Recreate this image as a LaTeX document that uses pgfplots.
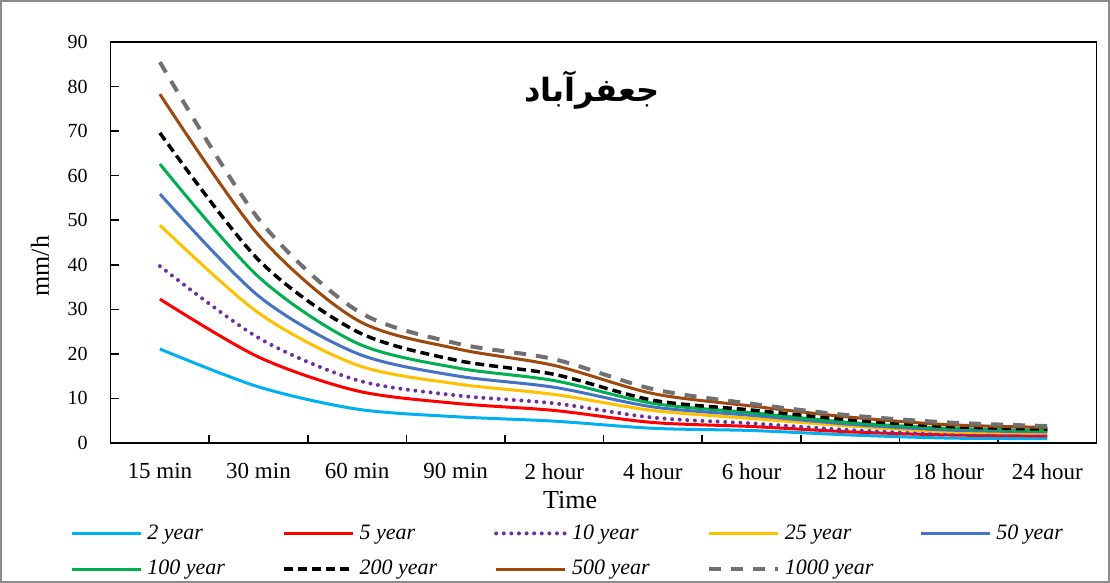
\documentclass[border=0pt]{standalone}
\usepackage{pgfplots}
\pgfplotsset{compat=1.18}
\usepackage{fontspec}
\setmainfont{Liberation Serif}
\newfontfamily\arabicfont[Script=Arabic]{DejaVu Sans}
\TeXXeTstate=1

\definecolor{c2}{RGB}{0,176,240}
\definecolor{c5}{RGB}{255,0,0}
\definecolor{c10}{RGB}{112,48,160}
\definecolor{c25}{RGB}{255,192,0}
\definecolor{c50}{RGB}{68,114,196}
\definecolor{c100}{RGB}{0,176,80}
\definecolor{c500}{RGB}{158,72,14}
\definecolor{c1000}{RGB}{112,112,112}

% fixed-width italic legend text
\newcommand{\legtxt}[1]{\makebox[55pt][l]{\itshape #1}}

\begin{document}
\begin{tikzpicture}
\useasboundingbox (0,0) rectangle (555pt,291.5pt);
\begin{axis}[
    at={(55.3pt,70pt)}, anchor=south west,
    scale only axis, width=493pt, height=200.5pt,
    xmin=-0.5, xmax=9.5, ymin=0, ymax=90,
    xtick={-0.5,0.5,...,8.5},
    xticklabels={15 min,30 min,60 min,90 min,2 hour,4 hour,6 hour,12 hour,18 hour,24 hour},
    xticklabel style={xshift=24.65pt, yshift=-6.5pt, font=\fontsize{11.5}{13}\selectfont},
    ytick={0,10,...,90},
    yticklabel style={xshift=-8pt, font=\fontsize{10}{12}\selectfont},
    xtick pos=bottom, ytick pos=left,
    tick align=inside, major tick length=4pt,
    axis line style={line width=0.8pt},
    tick style={line width=0.8pt, black},
    /pgf/number format/assume math mode=true,
    xlabel={Time}, ylabel={mm/h},
    label style={font=\fontsize{13}{15}\selectfont},
    xlabel style={at={(axis description cs:0.466,-0.142)}, anchor=center},
    ylabel style={at={(axis description cs:-0.0716,0.441)}, anchor=center},
    legend columns=5,
    legend cell align=left,
    legend image code/.code={\draw[#1] (0pt,0pt) -- (34.5pt,0pt);},
    legend style={at={(-0.0472,-0.19)}, anchor=north west, draw=none, fill=none,
        font=\fontsize{11}{13}\selectfont,
        nodes={inner sep=0.5pt},
        /tikz/every odd column/.append style={column sep=2pt},
        /tikz/every even column/.append style={column sep=11.8pt},
        row sep=8pt},
    every axis plot/.append style={smooth, tension=0.5, line width=1.5pt},
]
\addplot[c2] coordinates {(0,21.1)(1,12.6)(2,7.6)(3,5.9)(4,4.9)(5,3.3)(6,2.8)(7,1.8)(8,1.1)(9,1.0)};
\addlegendentry{\legtxt{2 year}}
\addplot[c5] coordinates {(0,32.3)(1,19.3)(2,11.7)(3,8.9)(4,7.3)(5,4.6)(6,3.7)(7,2.5)(8,1.8)(9,1.6)};
\addlegendentry{\legtxt{5 year}}
\addplot[c10, line width=2pt, line cap=round, dash pattern=on 0pt off 3.8pt] coordinates {(0,39.7)(1,23.6)(2,14.1)(3,10.7)(4,8.9)(5,5.7)(6,4.4)(7,2.9)(8,2.0)(9,1.9)};
\addlegendentry{\legtxt{10 year}}
\addplot[c25] coordinates {(0,48.9)(1,29.2)(2,17.5)(3,13.3)(4,10.9)(5,7.3)(6,5.5)(7,3.8)(8,2.5)(9,2.2)};
\addlegendentry{\legtxt{25 year}}
\addplot[c50] coordinates {(0,55.9)(1,33.0)(2,20.1)(3,15.1)(4,12.5)(5,8.1)(6,6.2)(7,4.2)(8,2.9)(9,2.5)};
\addlegendentry{\legtxt{50 year}}
\addplot[c100] coordinates {(0,62.6)(1,37.3)(2,22.4)(3,16.9)(4,14.0)(5,8.9)(6,6.8)(7,4.6)(8,3.3)(9,2.8)};
\addlegendentry{\legtxt{100 year}}
\addplot[black, line width=1.75pt, dash pattern=on 4.5pt off 2.5pt] coordinates {(0,69.6)(1,41.1)(2,25.0)(3,18.6)(4,15.4)(5,9.6)(6,7.4)(7,5.2)(8,3.7)(9,3.1)};
\addlegendentry{\legtxt{200 year}}
\addplot[c500] coordinates {(0,78.3)(1,46.7)(2,27.6)(3,21.2)(4,17.4)(5,11.1)(6,8.3)(7,5.8)(8,4.1)(9,3.5)};
\addlegendentry{\legtxt{500 year}}
\addplot[c1000, line width=2pt, dash pattern=on 6pt off 5pt] coordinates {(0,85.5)(1,50.3)(2,29.7)(3,22.4)(4,18.8)(5,12.1)(6,8.8)(7,6.2)(8,4.6)(9,3.8)};
\addlegendentry{\legtxt{1000 year}}
\node[font=\arabicfont\bfseries\fontsize{16}{19}\selectfont] at (rel axis cs:0.488,0.88) {\beginR جعفرآباد\endR};
\end{axis}
% outer chart frame
\draw[black!45, line width=0.8pt] (0.4pt,0.4pt) rectangle (554.6pt,291.1pt);
\end{tikzpicture}
\end{document}
